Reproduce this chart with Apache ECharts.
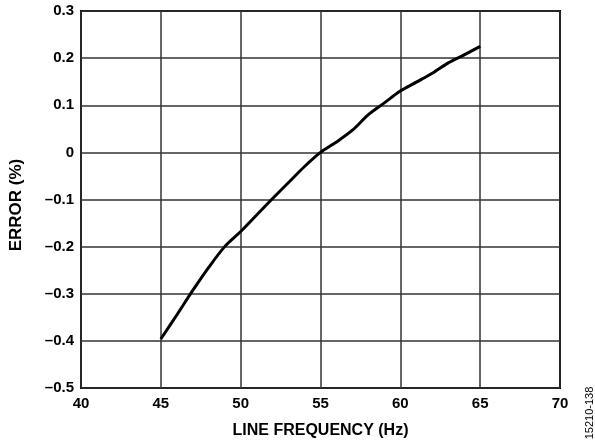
<!DOCTYPE html>
<html><head><meta charset="utf-8">
<script src="https://cdn.jsdelivr.net/npm/echarts@6/dist/echarts.min.js"></script>
<style>html,body{margin:0;padding:0;background:#fff}#c{width:595px;height:444px}</style>
</head><body><div id="c"></div>
<script>
const freqHz = [45,46,47,48,49,50,51,52,53,54,55,56,57,58,59,60,61,62,63,64,65];
const errorPct = [-0.396,-0.345,-0.293,-0.244,-0.2,-0.168,-0.133,-0.098,-0.064,-0.03,0.0,0.022,0.047,0.08,0.105,0.13,0.149,0.168,0.19,0.207,0.225];
const xTitle = 'LINE FREQUENCY (Hz)';
const yTitle = 'ERROR (%)';
const figId = '15210-138';

const chart = echarts.init(document.getElementById('c'), null, {renderer:'canvas'});
const font = 'Liberation Sans, Arial, sans-serif';
chart.setOption({
  animation: false,
  grid: {left: 81, right: 35, top: 11, bottom: 55, show: true, borderColor: '#000', borderWidth: 2, backgroundColor: 'transparent'},
  xAxis: {
    type: 'value', min: 40, max: 70, interval: 5,
    name: xTitle, nameLocation: 'middle', nameGap: 35,
    nameTextStyle: {fontFamily: font, fontWeight: 'bold', fontSize: 16, color: '#000'},
    axisLine: {show: false}, axisTick: {show: false},
    axisLabel: {fontFamily: font, fontWeight: 'bold', fontSize: 15, color: '#000', margin: 8},
    splitLine: {show: true, lineStyle: {color: '#333', width: 1.5}}
  },
  yAxis: {
    type: 'value', min: -0.5, max: 0.3, interval: 0.1,
    axisLine: {show: false}, axisTick: {show: false},
    axisLabel: {fontFamily: font, fontWeight: 'bold', fontSize: 15, color: '#000', margin: 7,
      formatter: v => { const r = Math.round(v*10)/10; if (r === 0) return '0'; return r < 0 ? '\u2013' + (-r).toFixed(1) : r.toFixed(1); }},
    splitLine: {show: true, lineStyle: {color: '#333', width: 1.5}}
  },
  series: [{
    type: 'line', data: freqHz.map((x,i) => [x, errorPct[i]]),
    showSymbol: false, smooth: 0.3,
    lineStyle: {color: '#000', width: 3}
  }],
  graphic: [{
    type: 'text', x: 16, y: 205, rotation: Math.PI/2,
    style: {text: yTitle, x: 0, y: 0, textAlign: 'center', textVerticalAlign: 'middle', fontFamily: font, fontWeight: 'bold', fontSize: 17, fill: '#000'}
  }, {
    type: 'text', x: 590, y: 413, rotation: Math.PI/2,
    style: {text: figId, x: 0, y: 0, textAlign: 'center', textVerticalAlign: 'middle', fontFamily: font, fontSize: 11, fill: '#000'}
  }]
});
</script></body></html>
